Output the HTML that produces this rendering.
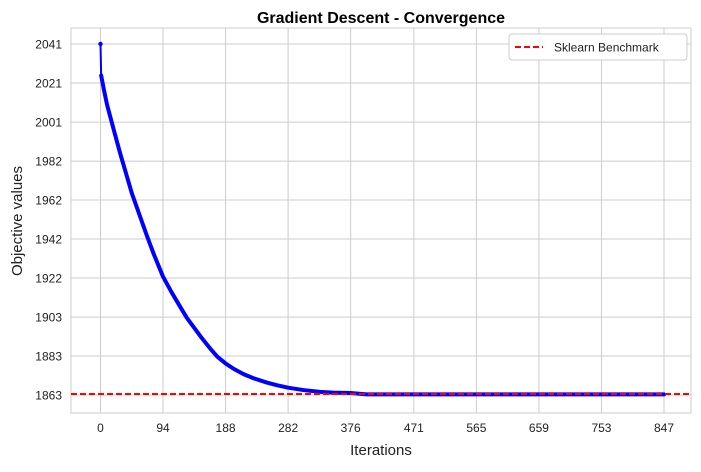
<!DOCTYPE html>
<html><head><meta charset="utf-8"><style>
body{margin:0;background:#fff;font-family:"Liberation Sans",Arial,sans-serif;}
svg text{font-family:"Liberation Sans",Arial,sans-serif;}
</style></head><body>
<svg id="chart" width="701" height="467">
<text x="381" y="23" text-anchor="middle" font-size="16" font-weight="bold" fill="#000">Gradient Descent - Convergence</text>
<rect x="71" y="28" width="620" height="385" fill="#fff" stroke="#ccc" stroke-width="1"/>
<g id="grid"></g><g id="ticks"></g>
<g id="series"></g>
<text x="381" y="455" text-anchor="middle" font-size="15" fill="#222">Iterations</text>
<text transform="translate(22,221) rotate(-90)" text-anchor="middle" font-size="15" fill="#222">Objective values</text>
<g>
<rect x="509" y="34" width="178" height="26" rx="3" fill="#fff" stroke="#ccc"/>
<line x1="515" y1="47" x2="543" y2="47" stroke="#f00" stroke-width="2" stroke-dasharray="6,3"/>
<text x="554" y="51.5" font-size="12" fill="#222">Sklearn Benchmark</text>
</g>
</svg>
<script>
const xTicks=[0,94,188,282,376,471,565,659,753,847];
const yTicks=[1863,1882.8,1902.5,1922.3,1942.1,1961.9,1981.6,2001.4,2021.2,2041];
const yTickLabels=["1863","1883","1903","1922","1942","1962","1982","2001","2021","2041"];
const iterations=[0,1,5,10,20,30,40,47,60,70,80,94,107,120,130,141,152,165,176,188,200,215,230,250,265,282,305,330,350,376,400,500,600,700,847];
const objectiveValues=[2041,2025,2018,2010,1997.4,1985,1973.5,1965.4,1953,1943.5,1934.5,1923,1915,1907.6,1902,1897,1892,1886.5,1882.3,1879,1876.3,1873.6,1871.5,1869.3,1868,1866.7,1865.5,1864.6,1864.2,1864,1863.3,1863.3,1863.3,1863.3,1863.3];
const benchmark=1863.5;
const NS="http://www.w3.org/2000/svg";
function xs(v){return 100.5+v*0.6653;}
function ys(v){return 395-(v-1863)*1.972;}
const grid=document.getElementById('grid'),ticks=document.getElementById('ticks'),ser=document.getElementById('series');
function mk(tag,attrs,parent){const e=document.createElementNS(NS,tag);for(const k in attrs)e.setAttribute(k,attrs[k]);parent.appendChild(e);return e;}
xTicks.forEach(t=>{
 const l=mk('line',{x1:xs(t),x2:xs(t),y1:28,y2:413,stroke:'#ccc','stroke-width':1},grid);
 
 
 const tx=mk('text',{x:xs(t),y:432,'text-anchor':'middle','font-size':12,fill:'#222'},ticks);
 tx.textContent=t;
 
 
});
yTicks.forEach((t,i)=>{
 const l=mk('line',{x1:71,x2:691,y1:ys(t),y2:ys(t),stroke:'#ccc','stroke-width':1},grid);
 
 
 const tx=mk('text',{x:62,y:ys(t)+4.5,'text-anchor':'end','font-size':12,fill:'#222'},ticks);
 tx.textContent=yTickLabels[i];
 
 
});
const pts=iterations.map((it,i)=>xs(it)+','+ys(objectiveValues[i]));
const thick=mk('polyline',{points:pts.slice(1).join(' '),fill:'none',stroke:'#00f','stroke-width':4,'stroke-linejoin':'round','stroke-linecap':'round'},ser);


const line=mk('polyline',{points:pts.join(' '),fill:'none',stroke:'#00f','stroke-width':2},ser);


const p0=mk('circle',{cx:xs(iterations[0]),cy:ys(objectiveValues[0]),r:2.2,fill:'#00f'},ser);


const b=mk('line',{x1:71,x2:691,y1:ys(benchmark),y2:ys(benchmark),stroke:'#f00','stroke-width':2,'stroke-dasharray':'6,3'},ser);


</script>
</body></html>
